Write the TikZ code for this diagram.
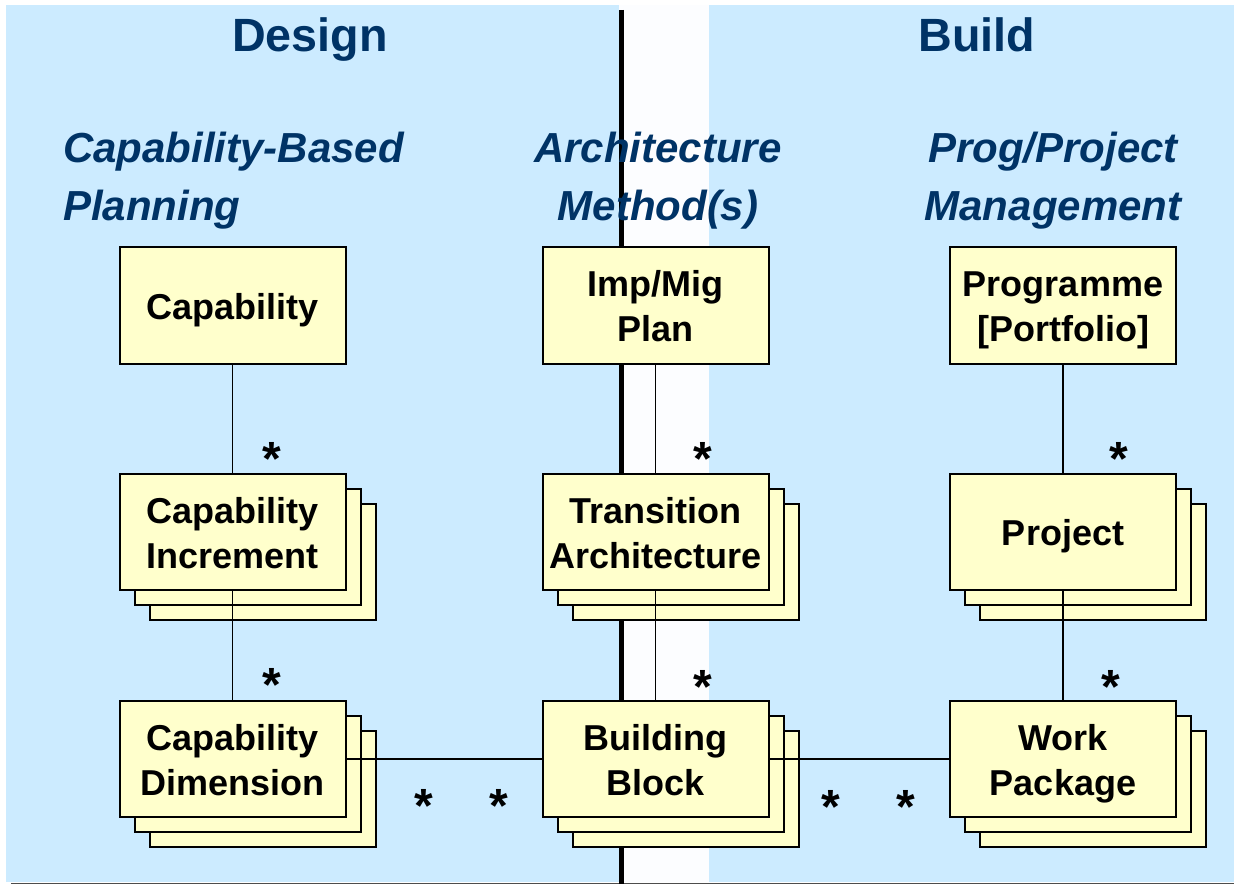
\documentclass[tikz,border=0pt]{standalone}
\usepackage{fontspec}
\setmainfont{Liberation Sans}
\usetikzlibrary{shadows}

\definecolor{panelblue}{RGB}{204,235,255}
\definecolor{stripwhite}{RGB}{252,253,255}
\definecolor{noteyellow}{RGB}{255,255,204}
\definecolor{titlenavy}{RGB}{0,51,102}

\tikzset{
  cls/.style={draw, line width=1.5pt, fill=noteyellow, minimum width=169.5pt,
    minimum height=87pt, inner sep=0pt, align=center,
    text height=26.6pt, text depth=6pt,
    font=\bfseries\fontsize{27}{33.75}\selectfont},
  twoline/.style={text height=60.35pt},
  multi/.style={cls, double copy shadow={shadow xshift=11.25pt, shadow yshift=-11.25pt,
    fill=noteyellow, draw=black, line width=1.5pt}},
  assoc/.style={line width=1.2pt},
  mult/.style={anchor=north, inner sep=0pt, font=\bfseries\fontsize{36}{36}\selectfont},
  phase/.style={anchor=base, text=titlenavy, inner sep=0pt, font=\bfseries\fontsize{35}{40}\selectfont},
  view/.style={anchor=north, text=titlenavy, inner sep=0pt, align=center,
    font=\bfseries\itshape\fontsize{31.5}{43.5}\selectfont}
}

\begin{document}
\begin{tikzpicture}[x=0.75pt,y=-0.75pt]
\useasboundingbox (0,0) rectangle (1234,884);
% panels
\fill[panelblue] (6,5) rectangle (619,882);
\fill[stripwhite] (619,5) rectangle (709,882);
\fill[panelblue] (709,5) rectangle (1234,882);
\draw[gray!60!black, line width=0.75pt] (11,883) -- (1234,883);
\draw[line width=3.75pt] (621.5,10) -- (621.5,884);

% headings
\node[phase] (design) at (310,52) {Design};
\node[phase] (build) at (977,52) {Build};
\node[view, anchor=north west, align=left] (cbp) at (63,132) {Capability-Based\\Planning};
\node[view] (adm) at (658,132) {Architecture\\Method(s)};
\node[view] (ppm) at (1053,132) {Prog/Project\\Management};

% classes
\node[cls] (cap) at (232.5,305.5) {Capability};
\node[multi, twoline] (capinc) at (232.5,532) {Capability\\Increment};
\node[multi, twoline] (capdim) at (232.5,759) {Capability\\Dimension};
\node[cls, twoline] (plan) at (655.5,305.5) {Imp/Mig\\Plan};
\node[multi, twoline] (trans) at (655.5,532) {Transition\\Architecture};
\node[multi, twoline] (bb) at (655.5,759) {Building\\Block};
\node[cls, twoline] (prog) at (1063,305.5) {Programme\\{[}Portfolio{]}};
\node[multi] (proj) at (1063,532) {Project};
\node[multi, twoline] (wp) at (1063,759) {Work\\Package};

% associations
\draw[assoc] (cap.south) -- (capinc.north);
\draw[assoc] (capinc.south) -- (capdim.north);
\draw[assoc] (plan.south) -- (trans.north);
\draw[assoc] (trans.south) -- (bb.north);
\draw[assoc] (prog.south) -- (proj.north);
\draw[assoc] (proj.south) -- (wp.north);
\draw[assoc] (capdim.east) -- (bb.west);
\draw[assoc] (bb.east) -- (wp.west);

% multiplicities
\node[mult] (m1) at (272,442) {*};
\node[mult] (m2) at (272,668) {*};
\node[mult] (m3) at (703,442) {*};
\node[mult] (m4) at (703,670) {*};
\node[mult] (m5) at (1119,442) {*};
\node[mult] (m6) at (1111,670) {*};
\node[mult] (m7) at (424,789) {*};
\node[mult] (m8) at (499,789) {*};
\node[mult] (m9) at (831,790) {*};
\node[mult] (m10) at (906,790) {*};
\end{tikzpicture}
\end{document}
